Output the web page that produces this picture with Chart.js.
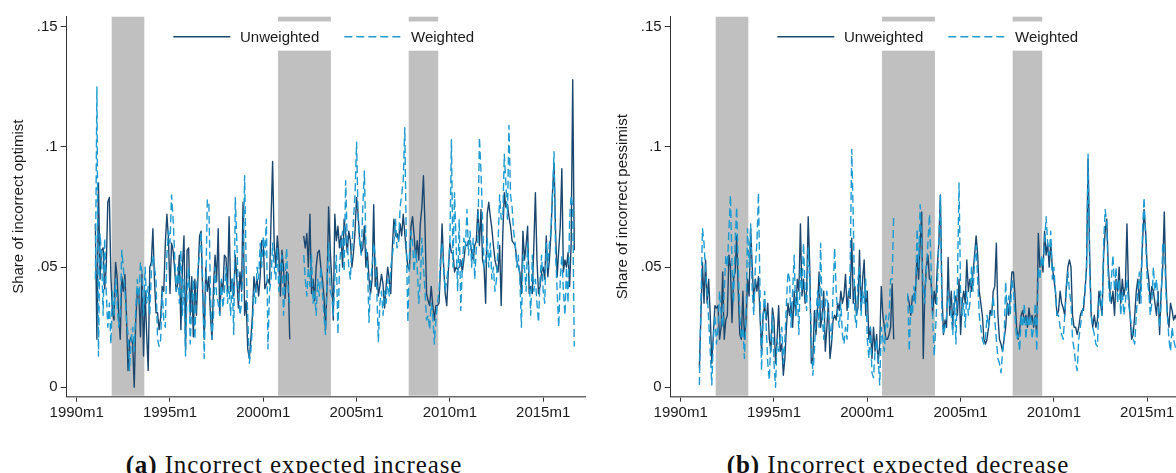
<!DOCTYPE html>
<html>
<head>
<meta charset="utf-8">
<script src="https://cdn.jsdelivr.net/npm/chart.js@4/dist/chart.umd.min.js"></script>
<style>
  html, body { margin: 0; padding: 0; background: #fff; overflow: hidden; }
  .panel { position: absolute; top: 0; width: 588px; height: 473px; }
  .panel canvas { position: absolute; left: 0; top: 0; }
  .caption {
    position: absolute; left: 0; top: 452px; width: 588px; text-align: center;
    font-family: "Liberation Serif", serif; font-size: 25px; line-height: 25px;
    letter-spacing: 0.9px; color: #111; white-space: nowrap;
  }
</style>
</head>
<body>
<div class="panel" style="left:0px">
  <canvas id="chartA" width="588" height="430"></canvas>
  <div class="caption"><b>(a)</b> Incorrect expected increase</div>
</div>
<div class="panel" style="left:604px">
  <canvas id="chartB" width="588" height="430"></canvas>
  <div class="caption"><b>(b)</b> Incorrect expected decrease</div>
</div>
<script>
// Monthly shares from 1991m1 to 2016m9, one row per year (null = no survey)
const firstMonth = 12; // months since 1990m1

const optUnweighted = [
  .068, .020, .085, .045, .057, .058, .041, .050, .077, .079, .046, .031, // 1991
  .028, .052, .046, .031, .020, .046, .040, .047, .030, .007, .019, .021, // 1992
  .018, .000, .028, .040, .039, .021, .047, .013, .040, .022, .007, .050, // 1993
  .052, .066, .045, .031, .031, .024, .029, .042, .040, .060, .072, .062, // 1994
  .039, .060, .057, .049, .040, .043, .055, .024, .050, .063, .016, .057, // 1995
  .058, .030, .046, .021, .045, .030, .046, .063, .065, .040, .020, .050, // 1996
  .040, .046, .030, .020, .042, .055, .044, .066, .030, .044, .040, .055, // 1997
  .054, .040, .071, .040, .045, .038, .055, .045, .033, .048, .040, .077, // 1998
  .030, .036, .016, .012, .020, .030, .046, .040, .045, .038, .046, .061, // 1999
  .061, .041, .043, .045, .043, .070, .094, .060, .050, .063, .055, .038, // 2000
  .057, .050, .037, .048, .047, .020, null, null, null, null, null, null, // 2001
  null, null, .063, .058, .064, .050, .072, .039, .045, .036, .050, .056, // 2002
  .057, .050, .045, .038, .024, .042, .075, .058, .045, .028, .072, .061, // 2003
  .067, .058, .063, .050, .070, .064, .056, .065, .061, .050, .056, .065, // 2004
  .079, .072, .061, .056, .058, .067, .050, .056, .045, .039, .045, .076, // 2005
  .042, .050, .038, .042, .047, .043, .033, .042, .050, .045, .039, .058, // 2006
  .070, .063, .064, .061, .068, .063, .072, .064, .056, .050, .049, .067, // 2007
  .071, .063, .054, .061, .053, .068, .075, .088, .067, .039, .036, .034, // 2008
  .042, .034, .028, .034, .034, .035, .050, .068, .050, .039, .034, .048, // 2009
  .060, .056, .056, .048, .050, .049, .050, .053, .048, .053, .059, .059, // 2010
  .061, .061, .056, .053, .059, .061, .074, .059, .074, .053, .050, .035, // 2011
  .072, .077, .071, .066, .059, .053, .050, .048, .059, .034, .063, .081, // 2012
  .075, .076, .071, .067, .061, .060, .059, .053, .050, .048, .039, .065, // 2013
  .053, .059, .067, .039, .042, .039, .059, .081, .053, .039, .042, .048, // 2014
  .050, .045, .063, .046, .053, .064, .081, .093, .064, .046, .057, .067, // 2015
  .091, .048, .053, .050, .056, .042, .060, .128, .057                    // 2016
];

const optWeighted = [
  .045, .125, .013, .064, .055, .030, .062, .040, .025, .035, .018, .040,
  .030, .045, .035, .025, .030, .057, .050, .040, .028, .022, .007, .020,
  .025, .015, .033, .045, .035, .052, .048, .030, .050, .035, .042, .030,
  .048, .055, .050, .045, .020, .017, .020, .040, .028, .025, .055, .065,
  .060, .080, .070, .055, .040, .050, .035, .057, .030, .045, .013, .040,
  .050, .018, .035, .045, .020, .040, .050, .055, .065, .045, .012, .040,
  .078, .076, .040, .020, .030, .050, .038, .035, .030, .045, .033, .040,
  .050, .035, .042, .030, .045, .022, .079, .060, .040, .030, .035, .052,
  .088, .050, .030, .010, .015, .025, .040, .035, .050, .045, .060, .050,
  .063, .055, .070, .016, .040, .045, .060, .050, .045, .058, .040, .050,
  .055, .030, .045, .058, .040, .035, null, null, null, null, null, null,
  null, null, .055, .045, .038, .050, .042, .055, .035, .040, .030, .045,
  .038, .050, .040, .030, .022, .045, .060, .040, .038, .030, .045, .055,
  .022, .050, .060, .065, .048, .086, .060, .050, .045, .058, .070, .080,
  .102, .070, .060, .055, .075, .090, .060, .050, .027, .045, .050, .060,
  .055, .040, .019, .035, .040, .030, .040, .035, .045, .038, .050, .055,
  .060, .070, .058, .060, .075, .080, .086, .108, .060, .027, .055, .065,
  .060, .048, .057, .050, .035, .045, .062, .050, .040, .028, .030, .024,
  .035, .030, .018, .028, .035, .040, .055, .060, .050, .040, .045, .050,
  .060, .103, .050, .081, .060, .040, .070, .032, .050, .062, .058, .074,
  .055, .065, .050, .062, .045, .058, .060, .104, .090, .070, .050, .052,
  .062, .050, .060, .045, .050, .040, .045, .060, .080, .070, .070, .097,
  .085, .070, .109, .080, .075, .065, .060, .050, .055, .045, .025, .055,
  .050, .040, .060, .045, .030, .055, .040, .045, .035, .027, .045, .055,
  .040, .035, .060, .050, .060, .065, .080, .098, .055, .040, .025, .045,
  .055, .040, .030, .050, .035, .070, .080, .075, .017
];

const pesUnweighted = [
  .008, .030, .052, .035, .053, .035, .045, .030, .010, .022, .034, .033,
  .034, .020, .025, .048, .020, .028, .030, .055, .050, .027, .045, .048,
  .063, .040, .022, .020, .040, .020, .028, .045, .038, .066, .050, .035,
  .045, .040, .046, .030, .015, .030, .034, .028, .035, .020, .015, .033,
  .028, .010, .020, .034, .015, .018, .005, .012, .025, .035, .030, .035,
  .025, .040, .030, .045, .040, .068, .038, .045, .035, .040, .071, .050,
  .010, .012, .032, .022, .033, .048, .025, .030, .040, .015, .025, .035,
  .012, .018, .028, .030, .028, .035, .032, .040, .035, .038, .047, .032,
  .040, .037, .062, .035, .042, .030, .033, .057, .032, .045, .053, .030,
  .040, .020, .025, .012, .025, .015, .022, .010, .018, .042, .030, .025,
  .020, .020, .022, .025, .043, .020, null, null, null, null, null, null,
  null, null, .038, .035, .030, .038, .036, .040, .055, .045, .060, .073,
  .012, .040, .050, .055, .045, .045, .030, .040, .035, .050, .060, .080,
  .040, .022, .028, .025, .054, .030, .040, .025, .035, .038, .030, .045,
  .022, .035, .040, .035, .053, .040, .045, .040, .048, .055, .063, .055,
  .040, .035, .030, .020, .018, .020, .025, .032, .030, .040, .042, .060,
  .030, .020, .018, .015, .020, .025, .035, .030, .038, .048, .048, .038,
  .025, .020, .024, .030, .032, .027, .030, .025, .033, .027, .030, .025,
  .030, .022, .064, .050, .053, .048, .065, .055, .060, .050, .060, .050,
  .045, .040, .030, .032, .040, .035, .033, .030, .042, .050, .053, .050,
  .030, .025, .025, .022, .025, .030, .032, .032, .040, .050, .095, .055,
  .030, .025, .030, .025, .028, .040, .035, .030, .055, .065, .070, .050,
  .040, .035, .040, .030, .045, .040, .050, .035, .045, .038, .042, .068,
  .040, .030, .020, .022, .030, .040, .045, .035, .045, .060, .074, .065,
  .050, .045, .035, .042, .040, .035, .030, .040, .022, .040, .050, .073,
  .045, .030, .025, .035, .032, .028, .030, .028, .030
];

const pesWeighted = [
  .001, .035, .066, .060, .048, .040, .028, .015, .001, .020, .030, .018,
  .025, .040, .030, .025, .040, .055, .050, .065, .080, .050, .035, .060,
  .075, .050, .030, .020, .025, .012, .030, .066, .050, .068, .040, .030,
  .050, .060, .081, .040, .007, .030, .040, .025, .010, .003, .020, .030,
  .010, .000, .020, .015, .020, .025, .010, .020, .035, .048, .045, .025,
  .040, .055, .030, .040, .022, .050, .040, .060, .040, .032, .058, .045,
  .020, .005, .015, .030, .040, .025, .060, .030, .020, .035, .040, .030,
  .025, .020, .040, .058, .040, .030, .025, .035, .022, .018, .025, .020,
  .035, .050, .099, .070, .030, .025, .045, .050, .030, .040, .035, .045,
  .020, .012, .025, .006, .004, .015, .020, .012, .001, .025, .020, .015,
  .030, .025, .030, .045, .045, .072, null, null, null, null, null, null,
  null, null, .039, .015, .035, .030, .042, .035, .066, .050, .076, .060,
  .040, .035, .050, .060, .072, .050, .030, .013, .025, .040, .060, .080,
  .030, .022, .025, .030, .040, .035, .030, .022, .040, .018, .045, .085,
  .040, .030, .035, .025, .040, .030, .035, .050, .040, .052, .059, .045,
  .030, .025, .020, .018, .020, .030, .025, .030, .030, .038, .028, .020,
  .012, .010, .006, .015, .020, .044, .030, .038, .030, .045, .040, .030,
  .020, .022, .015, .030, .025, .035, .020, .030, .025, .030, .020, .025,
  .035, .015, .050, .045, .055, .050, .060, .071, .060, .055, .065, .045,
  .050, .040, .030, .030, .025, .022, .020, .030, .040, .048, .040, .035,
  .020, .016, .010, .007, .020, .025, .030, .035, .040, .050, .097, .050,
  .030, .025, .022, .018, .017, .035, .040, .030, .060, .074, .068, .045,
  .035, .045, .055, .040, .050, .035, .045, .030, .040, .030, .035, .045,
  .035, .030, .025, .020, .018, .030, .040, .048, .035, .065, .079, .062,
  .045, .040, .030, .035, .050, .040, .045, .035, .025, .035, .060, .060,
  .040, .030, .020, .015, .025, .020, .017, .015, .020
];

// Recession months (since 1990m1), first and last month shaded
const recessionStart = [23, 130, 214];
const recessionEnd = [43, 163, 232];

const xTickMonths = [0, 60, 120, 180, 240, 300];
const xTickLabels = ['1990m1', '1995m1', '2000m1', '2005m1', '2010m1', '2015m1'];
const yTicks = [0, 0.05, 0.1, 0.15];
const yTickLabels = ['0', '.05', '.1', '.15'];

const seriesNames = ['Unweighted', 'Weighted'];
const navy = '#1a476f';
const sky = '#1c9bd1';
const textColor = '#1a1a1a';
const sans = '"Liberation Sans", Arial, sans-serif';

// Turn a monthly array into {x, y} points on the month axis
function toPoints(values) {
    return values.map((v, i) => ({ x: firstMonth + i, y: v }));
}

// Grey recession bars behind the lines
const recessionBars = {
    id: 'recessionBars',
    beforeDatasetsDraw(chart) {
        const { ctx, chartArea, scales: { x } } = chart;
        ctx.save();
        ctx.fillStyle = '#c0c0c0';
        recessionStart.forEach((start, i) => {
            const x0 = x.getPixelForValue(start - 0.5);
            const x1 = x.getPixelForValue(recessionEnd[i] + 0.5);
            ctx.fillRect(x0, chartArea.top, x1 - x0, chartArea.bottom - chartArea.top - 1);
        });
        ctx.restore();
    }
};

// Legend box inside the plot, on a white background
const keyBox = {
    id: 'keyBox',
    afterDraw(chart) {
        const ctx = chart.ctx;
        ctx.save();
        ctx.fillStyle = '#ffffff';
        ctx.fillRect(165, 21.5, 318, 29.2);
        chart.data.datasets.forEach((ds, i) => {
            const sx = 173.3 + i * 171;
            ctx.beginPath();
            ctx.strokeStyle = ds.borderColor;
            ctx.lineWidth = 1.4;
            ctx.setLineDash(ds.borderDash || []);
            ctx.moveTo(sx, 36.7);
            ctx.lineTo(sx + 57, 36.7);
            ctx.stroke();
            ctx.setLineDash([]);
            ctx.fillStyle = textColor;
            ctx.font = '15px ' + sans;
            ctx.textBaseline = 'alphabetic';
            ctx.fillText(ds.label, sx + 66.7, 41.7);
        });
        ctx.restore();
    }
};

function makePanel(canvasId, unweighted, weighted, yTitle) {
    const ctx = document.getElementById(canvasId).getContext('2d');
    return new Chart(ctx, {
        type: 'line',
        data: {
            datasets: [
                {
                    label: seriesNames[0],
                    data: toPoints(unweighted),
                    borderColor: navy,
                    borderWidth: 1.4,
                    order: 2
                },
                {
                    label: seriesNames[1],
                    data: toPoints(weighted),
                    borderColor: sky,
                    borderWidth: 1.4,
                    borderDash: [8, 4],
                    order: 1
                }
            ]
        },
        options: {
            responsive: false,
            animation: false,
            spanGaps: false,
            elements: {
                point: { radius: 0 },
                line: { tension: 0, borderJoinStyle: 'round', fill: false }
            },
            layout: { padding: { top: 16.7, right: 3, bottom: 0, left: 0 } },
            plugins: { legend: { display: false }, tooltip: { enabled: false } },
            scales: {
                x: {
                    type: 'linear',
                    min: -6.43,
                    max: 326.9,
                    afterFit(scale) { scale.height = 33.3; },
                    afterBuildTicks(scale) { scale.ticks = xTickMonths.map(v => ({ value: v })); },
                    ticks: {
                        autoSkip: false,
                        maxRotation: 0,
                        padding: 2,
                        color: textColor,
                        font: { family: sans, size: 15 },
                        callback: (v) => xTickLabels[xTickMonths.indexOf(v)]
                    },
                    grid: { drawOnChartArea: false, drawTicks: true, tickLength: 5, color: '#333' },
                    border: { display: true, color: '#6a6a6a', width: 1.5 }
                },
                y: {
                    min: -0.0039,
                    max: 0.1542,
                    afterFit(scale) { scale.width = 66.7; },
                    afterBuildTicks(scale) { scale.ticks = yTicks.map(v => ({ value: v })); },
                    ticks: {
                        padding: 3,
                        color: textColor,
                        font: { family: sans, size: 15 },
                        callback: (v) => yTickLabels[yTicks.indexOf(v)]
                    },
                    grid: { drawOnChartArea: false, drawTicks: true, tickLength: 6, color: '#333' },
                    border: { display: true, color: '#333', width: 1 },
                    title: {
                        display: true,
                        text: yTitle,
                        color: textColor,
                        font: { family: sans, size: 15 },
                        padding: { top: 10, bottom: 0 }
                    }
                }
            }
        },
        plugins: [recessionBars, keyBox]
    });
}

makePanel('chartA', optUnweighted, optWeighted, 'Share of incorrect optimist');
makePanel('chartB', pesUnweighted, pesWeighted, 'Share of incorrect pessimist');
</script>
</body>
</html>
